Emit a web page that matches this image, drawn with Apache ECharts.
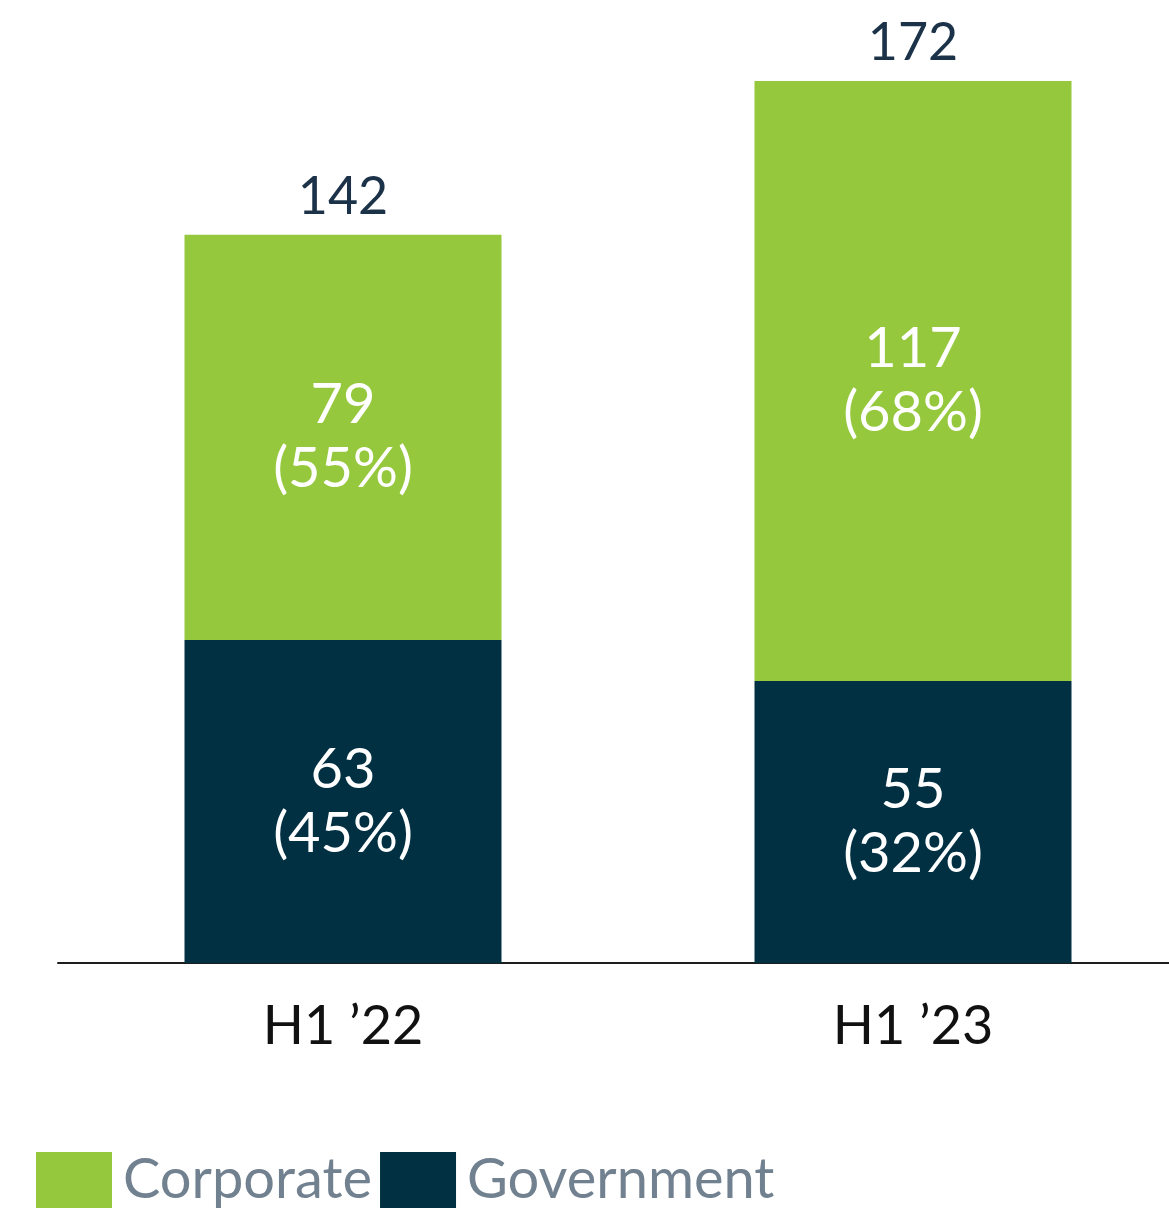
<!DOCTYPE html>
<html>
<head>
<meta charset="utf-8">
<script src="https://cdn.jsdelivr.net/npm/echarts@6/dist/echarts.min.js"></script>
<style>
  html, body { margin: 0; padding: 0; background: #ffffff; }
  #chart { width: 1169px; height: 1210px; }
</style>
</head>
<body>
<div id="chart"></div>
<script>
// Half-year periods on the category axis
const periods = ["H1 \u201922", "H1 \u201923"];

// Issuance by segment
const corporate = [79, 117];
const government = [63, 55];

// Segment shares as stated in the labels (%)
const corporateShare = [55, 68];
const governmentShare = [45, 32];

// Period totals shown above each column
const totals = [142, 172];

const FONT = "Lato, 'Open Sans', sans-serif";
const GREEN = "#95c83d";
const NAVY = "#023043";

const chart = echarts.init(document.getElementById("chart"), null, { renderer: "canvas" });

chart.setOption({
  animation: false,
  backgroundColor: "#ffffff",
  grid: {
    left: 58, top: 40, width: 1140, height: 923,
    containLabel: false,
    outerBoundsMode: "none"
  },
  legend: {
    left: 36,
    top: 1152,
    padding: 0,
    itemWidth: 76,
    itemHeight: 56,
    itemGap: 8,
    icon: "rect",
    data: ["Corporate", "Government"],
    textStyle: {
      fontFamily: FONT,
      fontSize: 56,
      color: "#718190",
      padding: [8, 0, 0, 6]
    }
  },
  xAxis: {
    type: "category",
    data: periods,
    axisLine: { show: true, lineStyle: { color: "#1e1e1e", width: 2 } },
    axisTick: { show: false },
    axisLabel: {
      margin: 37,
      fontFamily: FONT,
      fontSize: 54,
      lineHeight: 54,
      color: "#111111"
    }
  },
  yAxis: {
    type: "value",
    min: 0,
    max: 180,
    show: false,
    splitLine: { show: false }
  },
  series: [
    {
      name: "Government",
      type: "bar",
      stack: "total",
      barWidth: 317,
      data: government,
      itemStyle: { color: NAVY },
      label: {
        show: true,
        position: "inside",
        fontFamily: FONT,
        fontSize: 56,
        lineHeight: 64,
        color: "#ffffff",
        formatter: p => p.value + "\n(" + governmentShare[p.dataIndex] + "%)"
      }
    },
    {
      name: "Corporate",
      type: "bar",
      stack: "total",
      barWidth: 317,
      data: corporate,
      itemStyle: { color: GREEN },
      label: {
        show: true,
        position: "inside",
        fontFamily: FONT,
        fontSize: 56,
        lineHeight: 64,
        color: "#ffffff",
        formatter: p => p.value + "\n(" + corporateShare[p.dataIndex] + "%)"
      }
    },
    {
      // Invisible overlay that carries the total label above each column
      name: "Total",
      type: "bar",
      barWidth: 317,
      barGap: "-100%",
      data: totals,
      itemStyle: { color: "rgba(0,0,0,0)" },
      silent: true,
      z: 0,
      label: {
        show: true,
        position: "top",
        distance: 12,
        fontFamily: FONT,
        fontSize: 52,
        lineHeight: 52,
        color: "#1b3249",
        formatter: p => String(p.value)
      }
    }
  ]
});
</script>
</body>
</html>
